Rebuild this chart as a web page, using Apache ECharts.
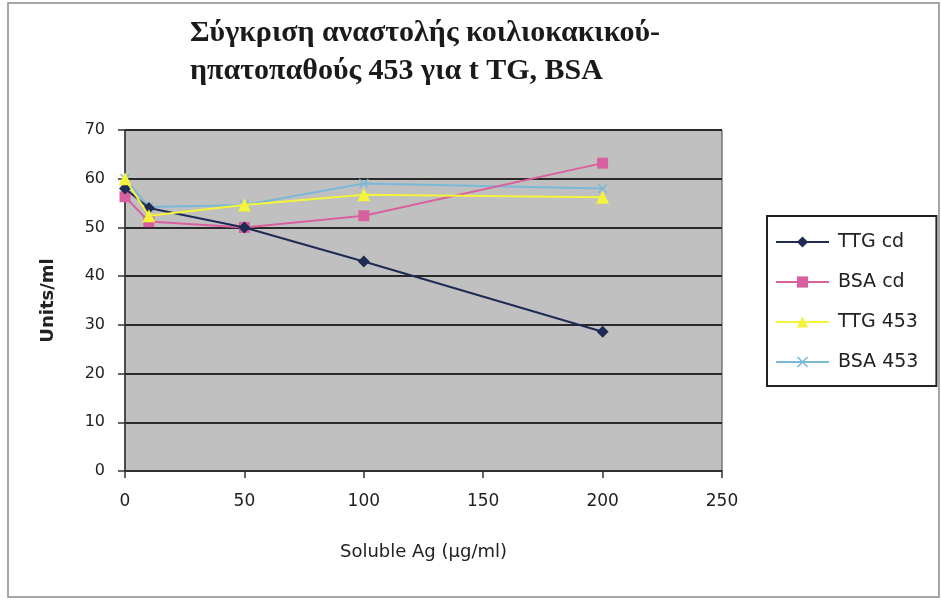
<!DOCTYPE html>
<html>
<head>
<meta charset="utf-8">
<script src="https://cdn.jsdelivr.net/npm/echarts@6/dist/echarts.min.js"></script>
<style>
  html, body { margin: 0; padding: 0; background: #fff; }
  #main { width: 941px; height: 600px; }
</style>
</head>
<body>
<div id="main"></div>
<script>
// concentrations (x axis)
var doses = [0, 10, 50, 100, 200];

// series values
var ttgCd  = [58, 54, 50, 43, 28.6];
var bsaCd  = [56.3, 51.2, 50, 52.4, 63.2];
var ttg453 = [60, 52.4, 54.6, 56.7, 56.2];
var bsa453 = [60, 54.2, 54.6, 59, 58];

var seriesNames = ['TTG cd', 'BSA cd', 'TTG 453', 'BSA 453'];

function pairs(vals) {
  return doses.map(function (d, i) { return [d, vals[i]]; });
}

var chart = echarts.init(document.getElementById('main'));

var option = {
  backgroundColor: '#fff',
  animation: false,
  title: {
    text: 'Σύγκριση αναστολής κοιλιοκακικού-\nηπατοπαθούς 453 για t TG, BSA',
    left: 185,
    top: 9,
    textStyle: {
      fontFamily: 'Liberation Serif',
      fontWeight: 'bold',
      fontSize: 30,
      lineHeight: 38,
      color: '#1a1a1a'
    }
  },
  graphic: [{
    type: 'rect',
    shape: { x: 8, y: 3, width: 931, height: 594 },
    style: { fill: 'none', stroke: '#8a8a8a', lineWidth: 1.5 },
    silent: true
  }],
  legend: {
    orient: 'vertical',
    left: 767,
    top: 216,
    padding: [16, 18, 14, 8],
    itemGap: 20,
    itemWidth: 53,
    itemHeight: 14,
    borderColor: '#222',
    borderWidth: 2,
    backgroundColor: '#fff',
    data: seriesNames,
    textStyle: {
      fontFamily: 'DejaVu Sans',
      fontSize: 19,
      lineHeight: 20,
      padding: [0, 0, 0, 4],
      color: '#222'
    }
  },
  grid: {
    left: 125,
    right: 219,
    top: 130,
    bottom: 129,
    show: true,
    backgroundColor: '#c0c0c0',
    borderColor: '#444',
    borderWidth: 1
  },
  xAxis: {
    type: 'value',
    min: 0,
    max: 250,
    interval: 50,
    name: 'Soluble Ag (μg/ml)',
    nameLocation: 'middle',
    nameGap: 72,
    nameTextStyle: { fontFamily: 'DejaVu Sans', fontSize: 18, color: '#222' },
    axisLine: { show: true, lineStyle: { color: '#333', width: 1.5 } },
    axisTick: { show: true, inside: false, length: 7, lineStyle: { color: '#333', width: 1.5 } },
    axisLabel: { fontFamily: 'DejaVu Sans', fontSize: 17, color: '#222', margin: 22 },
    splitLine: { show: false }
  },
  yAxis: {
    type: 'value',
    min: 0,
    max: 70,
    interval: 10,
    name: 'Units/ml',
    nameLocation: 'middle',
    nameGap: 68,
    nameTextStyle: { fontFamily: 'DejaVu Sans', fontWeight: 'bold', fontSize: 18, color: '#222' },
    axisLine: { show: true, lineStyle: { color: '#333', width: 1.5 } },
    axisTick: { show: true, inside: false, length: 7, lineStyle: { color: '#333', width: 1.5 } },
    axisLabel: { fontFamily: 'DejaVu Sans', fontSize: 16, color: '#222', margin: 20 },
    splitLine: { show: true, lineStyle: { color: '#2a2a2a', width: 2 } }
  },
  series: [{
    name: 'TTG cd',
    type: 'line',
    data: pairs(ttgCd),
    symbol: 'diamond',
    symbolSize: 12,
    itemStyle: { color: '#1f2a55' },
    lineStyle: { color: '#1f2a55', width: 2 },
    z: 4
  }, {
    name: 'BSA cd',
    type: 'line',
    data: pairs(bsaCd),
    symbol: 'rect',
    symbolSize: 11,
    itemStyle: { color: '#d9609e' },
    lineStyle: { color: '#d9609e', width: 2 },
    z: 3
  }, {
    name: 'TTG 453',
    type: 'line',
    data: pairs(ttg453),
    symbol: 'triangle',
    symbolSize: 13,
    itemStyle: { color: '#f4f43a' },
    lineStyle: { color: '#f4f43a', width: 2 },
    z: 5
  }, {
    name: 'BSA 453',
    type: 'line',
    data: pairs(bsa453),
    symbol: 'path://M0,1L1,0L5,4L9,0L10,1L6,5L10,9L9,10L5,6L1,10L0,9L4,5Z',
    symbolSize: 10,
    itemStyle: { color: '#7ab8d6' },
    lineStyle: { color: '#7ab8d6', width: 2 },
    z: 2
  }]
};

chart.setOption(option);
</script>
</body>
</html>
